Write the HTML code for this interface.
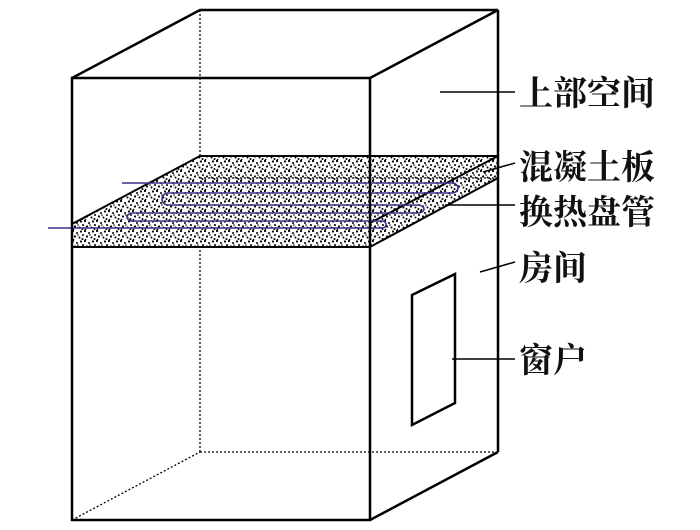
<!DOCTYPE html>
<html><head><meta charset="utf-8"><style>
html,body{margin:0;padding:0;background:#fff;}
svg{display:block;}
text{font-family:"Liberation Serif","Noto Serif CJK SC",serif;font-size:34px;font-weight:bold;fill:#111;}
</style></head><body>
<svg width="700" height="530" viewBox="0 0 700 530" xmlns="http://www.w3.org/2000/svg">
<defs>
<pattern id="dots" width="12" height="10" patternUnits="userSpaceOnUse">
<rect width="12" height="10" fill="#fff"/>
<g fill="#000">
<circle cx="1" cy="1" r="1.1"/><circle cx="5" cy="3" r="1"/><circle cx="9" cy="1.5" r="1.1"/>
<circle cx="11" cy="5" r="1"/><circle cx="3" cy="6.5" r="1.1"/><circle cx="7.5" cy="7.5" r="1"/>
<circle cx="10.5" cy="9" r="1"/><circle cx="6" cy="5" r="0.8"/><circle cx="1.5" cy="9.5" r="0.8"/>
</g>
</pattern>
</defs>
<g stroke="#000" stroke-width="1.3" stroke-dasharray="2,2" fill="none">
<line x1="200" y1="10" x2="200" y2="452"/>
<line x1="200" y1="452" x2="498" y2="452"/>
<line x1="72" y1="520" x2="200" y2="452"/>
</g>
<polygon points="72,224 200,156 498,156 498,178 370,247 72,247" fill="url(#dots)"/>
<g stroke="#000" stroke-width="2" fill="none">
<polyline points="72,224 200,156 498,156"/>
<line x1="72" y1="247" x2="370" y2="247"/>
<polyline points="370,223 498,156"/>
<polyline points="370,247 498,178"/>
<line x1="200" y1="178" x2="498" y2="178" stroke-width="1.2" stroke-dasharray="2,2"/>
</g>
<path d="M122,183 H452 A6,5 0 0 1 452,193 H168 A6,6 0 0 0 168,205 H418 A6,4 0 0 1 418,213 H133 A6,4 0 0 0 133,221 H383 A6,4 0 0 1 383,228 H48" fill="none" stroke="#3b2f8c" stroke-width="1.6"/>
<g stroke="#000" stroke-width="2.5" fill="none">
<rect x="72" y="78" width="298" height="442"/>
<polyline points="72,78 200,10 498,10 370,78"/>
<line x1="498" y1="10" x2="498" y2="452"/>
<line x1="370" y1="520" x2="498" y2="452"/>
<line x1="72" y1="247" x2="370" y2="247" stroke-width="2"/>
<polygon points="412,295 455,274 455,403 412,425"/>
</g>
<g stroke="#000" stroke-width="1.5">
<line x1="440" y1="92" x2="515" y2="92"/>
<line x1="483" y1="172" x2="515" y2="163"/>
<line x1="445" y1="205" x2="515" y2="205"/>
<line x1="480" y1="272" x2="515" y2="262"/>
<line x1="452" y1="359" x2="515" y2="359"/>
</g>
<text x="519" y="105">上部空间</text>
<text x="519" y="179">混凝土板</text>
<text x="519" y="224">换热盘管</text>
<text x="519" y="280">房间</text>
<text x="519" y="372">窗户</text>
</svg>
</body></html>
